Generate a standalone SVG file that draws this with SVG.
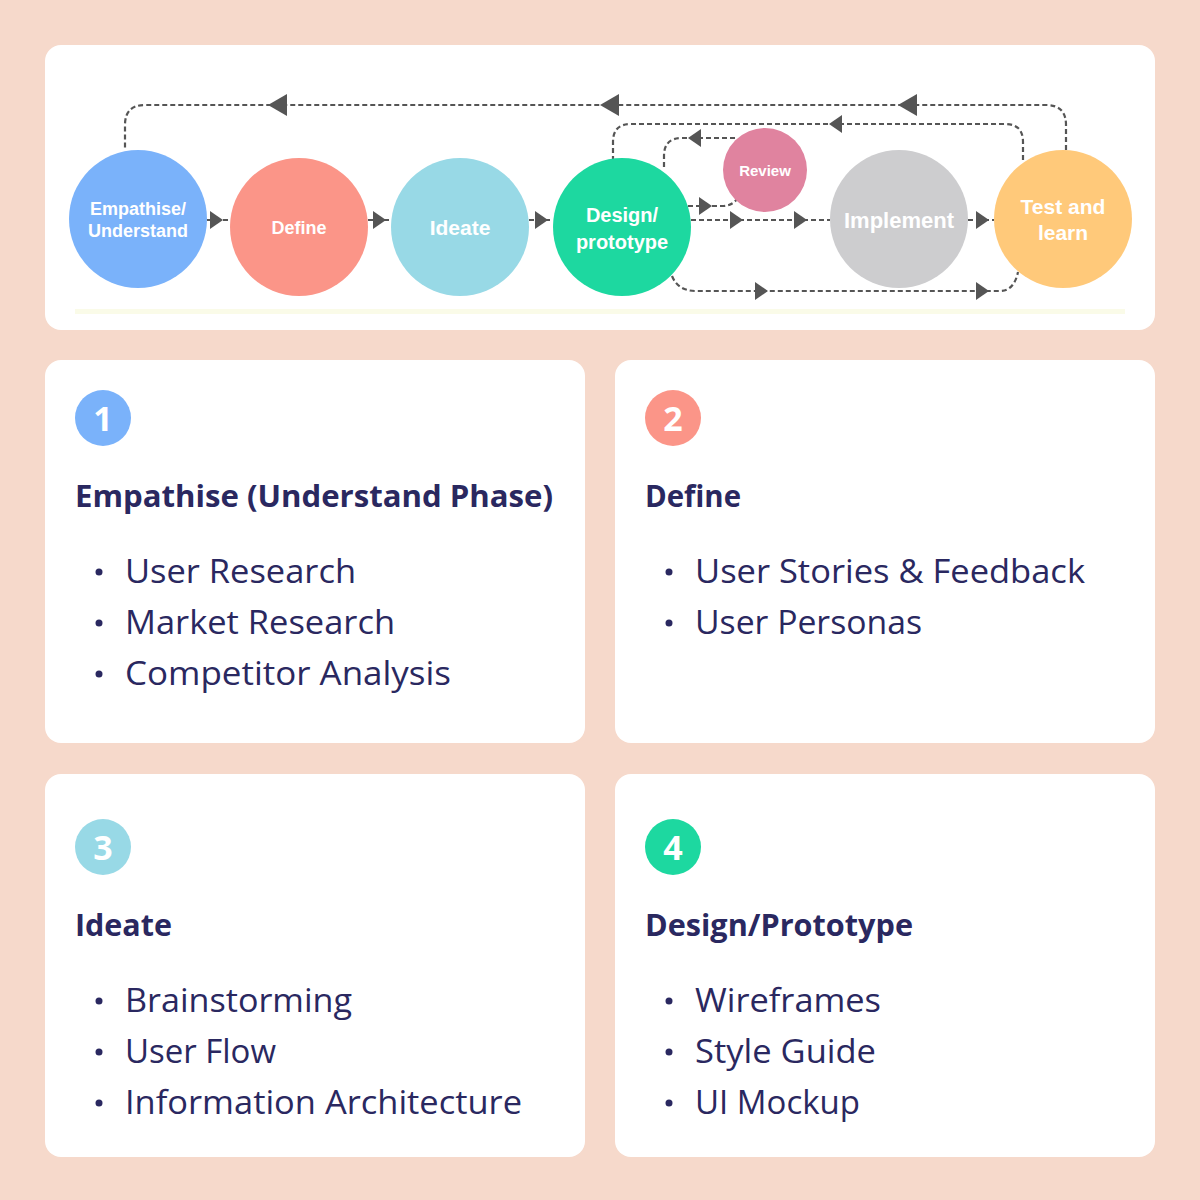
<svg xmlns="http://www.w3.org/2000/svg" xmlns:xlink="http://www.w3.org/1999/xlink" width="1200" height="1200" viewBox="0 0 1200 1200">
<defs>
<style>
.card{fill:#ffffff}
.node-t{font-family:"Liberation Sans",Arial,sans-serif;font-weight:700;fill:#ffffff;text-anchor:middle}
.con{fill:none;stroke:#555555;stroke-width:2.2;stroke-dasharray:5 3}
.ah{fill:#555555}
.num{font-family:"Open Sans",sans-serif;font-weight:700;font-size:34px;fill:#ffffff;text-anchor:middle}
.head{font-family:"Open Sans",sans-serif;font-weight:700;font-size:30px;fill:#2A2860}
.item{font-family:"Open Sans",sans-serif;font-weight:400;font-size:32px;fill:#2A2860}
.dot{fill:#2A2860}
</style>
<path id="arS" d="M0,0 L-13,-9 L-13,9 Z"/>
<path id="arL" d="M0,0 L-19,-11 L-19,11 Z"/>
</defs>
<rect width="1200" height="1200" fill="#F6D9CB"/>
<rect class="card" x="45" y="45" width="1110" height="285" rx="16"/>
<rect x="75" y="309" width="1050" height="5" fill="#FAFBE8"/>

<g id="connectors">
<path class="con" d="M207,220 H230"/>
<use class="ah" xlink:href="#arS" transform="translate(223,220)"/>
<path class="con" d="M368,220 H391"/>
<use class="ah" xlink:href="#arS" transform="translate(386,220)"/>
<path class="con" d="M529,220 H553"/>
<use class="ah" xlink:href="#arS" transform="translate(548,220)"/>
<path class="con" d="M691,220 H830"/>
<use class="ah" xlink:href="#arS" transform="translate(743,220)"/>
<use class="ah" xlink:href="#arS" transform="translate(807,220)"/>
<path class="con" d="M968,220 H994"/>
<use class="ah" xlink:href="#arS" transform="translate(989,220)"/>
<path class="con" d="M688,206 H722 Q732,206 737,199"/>
<use class="ah" xlink:href="#arS" transform="translate(712,206)"/>
<path class="con" d="M735,138 H682 Q664,138 664,156 V170"/>
<use class="ah" xlink:href="#arS" transform="translate(688,138) rotate(180)"/>
<path class="con" d="M1023,160 V142 Q1023,124 1005,124 H631 Q613,124 613,142 V160"/>
<use class="ah" xlink:href="#arS" transform="translate(829,124) rotate(180)"/>
<path class="con" d="M1066,150 V125 Q1066,105 1046,105 H145 Q125,105 125,125 V150"/>
<use class="ah" xlink:href="#arL" transform="translate(268,105) rotate(180)"/>
<use class="ah" xlink:href="#arL" transform="translate(600,105) rotate(180)"/>
<use class="ah" xlink:href="#arL" transform="translate(898,105) rotate(180)"/>
<path class="con" d="M672,276 Q678,291 696,291 H1000 Q1014,291 1018,272"/>
<use class="ah" xlink:href="#arS" transform="translate(768,291)"/>
<use class="ah" xlink:href="#arS" transform="translate(989,291)"/>
</g>

<g id="n-empathise">
<circle cx="138" cy="219" r="69" fill="#7AB2FA"/>
<text class="node-t" x="138" y="215" font-size="18">Empathise/</text>
<text class="node-t" x="138" y="237" font-size="18">Understand</text>
</g>
<g id="n-define">
<circle cx="299" cy="227" r="69" fill="#FB9588"/>
<text class="node-t" x="299" y="234" font-size="18">Define</text>
</g>
<g id="n-ideate">
<circle cx="460" cy="227" r="69" fill="#98D9E6"/>
<text class="node-t" x="460" y="235" font-size="21">Ideate</text>
</g>
<g id="n-design">
<circle cx="622" cy="227" r="69" fill="#1DD8A0"/>
<text class="node-t" x="622" y="222" font-size="20">Design/</text>
<text class="node-t" x="622" y="249" font-size="20">prototype</text>
</g>
<g id="n-review">
<circle cx="765" cy="170" r="42" fill="#E0839F"/>
<text class="node-t" x="765" y="176" font-size="15">Review</text>
</g>
<g id="n-implement">
<circle cx="899" cy="219" r="69" fill="#CDCDCF"/>
<text class="node-t" x="899" y="228" font-size="22">Implement</text>
</g>
<g id="n-test">
<circle cx="1063" cy="219" r="69" fill="#FFC97A"/>
<text class="node-t" x="1063" y="214" font-size="21">Test and</text>
<text class="node-t" x="1063" y="240" font-size="21">learn</text>
</g>

<g id="card1">
<rect class="card" x="45" y="360" width="540" height="383" rx="16"/>
<circle cx="103" cy="418" r="28" fill="#7AB2FA"/>
<text class="num" x="103" y="431">1</text>
<text class="head" x="75" y="507" textLength="478" lengthAdjust="spacingAndGlyphs">Empathise (Understand Phase)</text>
<circle class="dot" cx="99" cy="572" r="3.5"/>
<text class="item" x="125" y="583" textLength="231" lengthAdjust="spacingAndGlyphs">User Research</text>
<circle class="dot" cx="99" cy="623" r="3.5"/>
<text class="item" x="125" y="634" textLength="270" lengthAdjust="spacingAndGlyphs">Market Research</text>
<circle class="dot" cx="99" cy="674" r="3.5"/>
<text class="item" x="125" y="685" textLength="326" lengthAdjust="spacingAndGlyphs">Competitor Analysis</text>
</g>
<g id="card2">
<rect class="card" x="615" y="360" width="540" height="383" rx="16"/>
<circle cx="673" cy="418" r="28" fill="#FB9588"/>
<text class="num" x="673" y="431">2</text>
<text class="head" x="645" y="507" textLength="96" lengthAdjust="spacingAndGlyphs">Define</text>
<circle class="dot" cx="669" cy="572" r="3.5"/>
<text class="item" x="695" y="583" textLength="390" lengthAdjust="spacingAndGlyphs">User Stories &amp; Feedback</text>
<circle class="dot" cx="669" cy="623" r="3.5"/>
<text class="item" x="695" y="634" textLength="227" lengthAdjust="spacingAndGlyphs">User Personas</text>
</g>
<g id="card3">
<rect class="card" x="45" y="774" width="540" height="383" rx="16"/>
<circle cx="103" cy="847" r="28" fill="#98D9E6"/>
<text class="num" x="103" y="860">3</text>
<text class="head" x="75" y="936" textLength="97" lengthAdjust="spacingAndGlyphs">Ideate</text>
<circle class="dot" cx="99" cy="1001" r="3.5"/>
<text class="item" x="125" y="1012" textLength="227" lengthAdjust="spacingAndGlyphs">Brainstorming</text>
<circle class="dot" cx="99" cy="1052" r="3.5"/>
<text class="item" x="125" y="1063" textLength="151" lengthAdjust="spacingAndGlyphs">User Flow</text>
<circle class="dot" cx="99" cy="1103" r="3.5"/>
<text class="item" x="125" y="1114" textLength="397" lengthAdjust="spacingAndGlyphs">Information Architecture</text>
</g>
<g id="card4">
<rect class="card" x="615" y="774" width="540" height="383" rx="16"/>
<circle cx="673" cy="847" r="28" fill="#1DD8A0"/>
<text class="num" x="673" y="860">4</text>
<text class="head" x="645" y="936" textLength="268" lengthAdjust="spacingAndGlyphs">Design/Prototype</text>
<circle class="dot" cx="669" cy="1001" r="3.5"/>
<text class="item" x="695" y="1012" textLength="186" lengthAdjust="spacingAndGlyphs">Wireframes</text>
<circle class="dot" cx="669" cy="1052" r="3.5"/>
<text class="item" x="695" y="1063" textLength="181" lengthAdjust="spacingAndGlyphs">Style Guide</text>
<circle class="dot" cx="669" cy="1103" r="3.5"/>
<text class="item" x="695" y="1114" textLength="165" lengthAdjust="spacingAndGlyphs">UI Mockup</text>
</g>
</svg>
